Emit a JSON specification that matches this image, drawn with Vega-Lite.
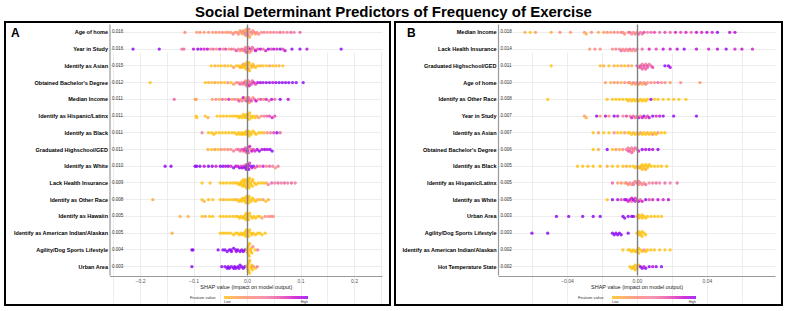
{
  "$schema": "https://vega.github.io/schema/vega-lite/v6.json",
  "background": "white",
  "padding": {"left": 4, "right": 3, "top": 5, "bottom": 4},
  "title": {"text": "Social Determinant Predictors of Frequency of Exercise", "font": "Liberation Sans", "fontSize": 15, "fontWeight": "bold", "color": "black", "anchor": "middle", "offset": 1},
  "config": {
    "font": "Liberation Sans",
    "view": {"stroke": "black", "strokeWidth": 2},
    "axis": {"labelFont": "Liberation Sans", "titleFont": "Liberation Sans"}
  },
  "datasets": {
    "featA": [
      {"r": 1, "f": "Age of home", "m": 0.016},
      {"r": 2, "f": "Year in Study", "m": 0.016},
      {"r": 3, "f": "Identify as Asian", "m": 0.015},
      {"r": 4, "f": "Obtained Bachelor's Degree", "m": 0.012},
      {"r": 5, "f": "Median Income", "m": 0.011},
      {"r": 6, "f": "Identify as Hispanic/Latinx", "m": 0.011},
      {"r": 7, "f": "Identify as Black", "m": 0.011},
      {"r": 8, "f": "Graduated Highschool/GED", "m": 0.011},
      {"r": 9, "f": "Identify as White", "m": 0.010},
      {"r": 10, "f": "Lack Health Insurance", "m": 0.009},
      {"r": 11, "f": "Identify as Other Race", "m": 0.008},
      {"r": 12, "f": "Identify as Hawaiin", "m": 0.005},
      {"r": 13, "f": "Identify as American Indian/Alaskan", "m": 0.005},
      {"r": 14, "f": "Agility/Dog Sports Lifestyle", "m": 0.004},
      {"r": 15, "f": "Urban Area", "m": 0.003}
    ],
    "featB": [
      {"r": 1, "f": "Median Income", "m": 0.018},
      {"r": 2, "f": "Lack Health Insurance", "m": 0.014},
      {"r": 3, "f": "Graduated Highschool/GED", "m": 0.011},
      {"r": 4, "f": "Age of home", "m": 0.010},
      {"r": 5, "f": "Identify as Other Race", "m": 0.008},
      {"r": 6, "f": "Year in Study", "m": 0.007},
      {"r": 7, "f": "Identify as Asian", "m": 0.007},
      {"r": 8, "f": "Obtained Bachelor's Degree", "m": 0.006},
      {"r": 9, "f": "Identify as Black", "m": 0.005},
      {"r": 10, "f": "Identify as Hispanic/Latinx", "m": 0.005},
      {"r": 11, "f": "Identify as White", "m": 0.005},
      {"r": 12, "f": "Urban Area", "m": 0.003},
      {"r": 13, "f": "Agility/Dog Sports Lifestyle", "m": 0.003},
      {"r": 14, "f": "Identify as American Indian/Alaskan", "m": 0.002},
      {"r": 15, "f": "Hot Temperature State", "m": 0.002}
    ],
    "ptsA": [
      {"r":1,"s":-0.116,"v":0.3},{"r":1,"s":-0.094,"v":0.2},{"r":1,"s":-0.088,"v":0.3},{"r":1,"s":-0.080,"v":0.2},{"r":1,"s":-0.072,"v":0.3},
      {"r":1,"s":-0.064,"v":0.2},{"r":1,"s":-0.058,"v":0.3},{"r":1,"s":-0.052,"v":0.2},{"r":1,"s":-0.046,"v":0.4},{"r":1,"s":-0.040,"v":0.2},{"r":1,"s":-0.035,"v":0.3},{"r":1,"s":-0.030,"v":0.2},{"r":1,"s":-0.026,"v":0.4},{"r":1,"s":-0.022,"v":0.3},
      {"r":1,"s":-0.018,"v":0.2},{"r":1,"s":-0.016,"v":0.3},{"r":1,"s":-0.013,"v":0.2},{"r":1,"s":-0.011,"v":0.4},{"r":1,"s":-0.009,"v":0.1},{"r":1,"s":-0.007,"v":0.3},{"r":1,"s":-0.005,"v":0.2},{"r":1,"s":-0.004,"v":0.5},{"r":1,"s":-0.003,"v":0.15},{"r":1,"s":-0.002,"v":0.3},{"r":1,"s":-0.001,"v":0.2},{"r":1,"s":0.000,"v":0.25},{"r":1,"s":0.001,"v":0.4},{"r":1,"s":0.002,"v":0.2},{"r":1,"s":0.003,"v":0.35},{"r":1,"s":0.004,"v":0.3},{"r":1,"s":0.005,"v":0.1},{"r":1,"s":0.007,"v":0.5},{"r":1,"s":0.009,"v":0.2},{"r":1,"s":0.011,"v":0.3},{"r":1,"s":0.013,"v":0.4},{"r":1,"s":0.016,"v":0.2},{"r":1,"s":0.018,"v":0.3},
      {"r":1,"s":0.022,"v":0.4},{"r":1,"s":0.027,"v":0.3},{"r":1,"s":0.032,"v":0.5},{"r":1,"s":0.038,"v":0.3},{"r":1,"s":0.044,"v":0.4},{"r":1,"s":0.050,"v":0.5},{"r":1,"s":0.056,"v":0.3},{"r":1,"s":0.062,"v":0.6},{"r":1,"s":0.068,"v":0.4},{"r":1,"s":0.075,"v":0.5},
      {"r":1,"s":0.082,"v":0.6},{"r":1,"s":0.088,"v":0.5},{"r":1,"s":0.099,"v":0.6},

      {"r":2,"s":-0.213,"v":1},{"r":2,"s":-0.164,"v":1},{"r":2,"s":-0.122,"v":0.5},{"r":2,"s":-0.118,"v":0.6},{"r":2,"s":-0.100,"v":0.9},{"r":2,"s":-0.092,"v":1},{"r":2,"s":-0.086,"v":0.9},{"r":2,"s":-0.080,"v":0.8},{"r":2,"s":-0.074,"v":0.9},{"r":2,"s":-0.068,"v":0.4},
      {"r":2,"s":-0.063,"v":0.6},{"r":2,"s":-0.057,"v":0.3},{"r":2,"s":-0.051,"v":0.8},{"r":2,"s":-0.045,"v":0.5},{"r":2,"s":-0.040,"v":0.7},{"r":2,"s":-0.034,"v":0.2},{"r":2,"s":-0.029,"v":0.6},{"r":2,"s":-0.024,"v":0.4},{"r":2,"s":-0.020,"v":0.7},
      {"r":2,"s":-0.016,"v":0.5},{"r":2,"s":-0.013,"v":0.3},{"r":2,"s":-0.010,"v":0.6},{"r":2,"s":-0.008,"v":0.2},{"r":2,"s":-0.005,"v":0.5},{"r":2,"s":-0.004,"v":0.6},{"r":2,"s":-0.003,"v":0.4},{"r":2,"s":-0.001,"v":0.7},{"r":2,"s":0.000,"v":0.45},{"r":2,"s":0.001,"v":0.3},{"r":2,"s":0.003,"v":0.5},{"r":2,"s":0.005,"v":0.2},{"r":2,"s":0.006,"v":0.8},{"r":2,"s":0.008,"v":0.4},{"r":2,"s":0.010,"v":0.6},{"r":2,"s":0.013,"v":0.5},{"r":2,"s":0.016,"v":0.9},
      {"r":2,"s":0.020,"v":0.7},{"r":2,"s":0.025,"v":0.9},{"r":2,"s":0.030,"v":0.6},{"r":2,"s":0.035,"v":0.8},{"r":2,"s":0.040,"v":1},{"r":2,"s":0.045,"v":0.7},{"r":2,"s":0.050,"v":0.9},{"r":2,"s":0.056,"v":0.8},{"r":2,"s":0.062,"v":1},{"r":2,"s":0.067,"v":0.7},{"r":2,"s":0.071,"v":0.9},
      {"r":2,"s":0.084,"v":1},{"r":2,"s":0.099,"v":1},{"r":2,"s":0.112,"v":0.9},{"r":2,"s":0.176,"v":1},

      {"r":3,"s":-0.067,"v":0},{"r":3,"s":-0.060,"v":0.1},{"r":3,"s":-0.054,"v":0},{"r":3,"s":-0.048,"v":0},{"r":3,"s":-0.042,"v":0.1},{"r":3,"s":-0.036,"v":0},{"r":3,"s":-0.030,"v":0},{"r":3,"s":-0.025,"v":0.2},{"r":3,"s":-0.020,"v":0},
      {"r":3,"s":-0.016,"v":0},{"r":3,"s":-0.013,"v":0.1},{"r":3,"s":-0.011,"v":0},{"r":3,"s":-0.009,"v":0},{"r":3,"s":-0.007,"v":0.2},{"r":3,"s":-0.005,"v":0},{"r":3,"s":-0.004,"v":0},{"r":3,"s":-0.003,"v":0.1},{"r":3,"s":-0.002,"v":0},{"r":3,"s":-0.001,"v":0},{"r":3,"s":0.000,"v":0.1},{"r":3,"s":0.001,"v":0},{"r":3,"s":0.002,"v":0},{"r":3,"s":0.003,"v":0.2},{"r":3,"s":0.004,"v":0},{"r":3,"s":0.005,"v":0},{"r":3,"s":0.007,"v":0.1},{"r":3,"s":0.009,"v":0},{"r":3,"s":0.011,"v":0},{"r":3,"s":0.013,"v":0.1},{"r":3,"s":0.016,"v":0},
      {"r":3,"s":0.020,"v":0},{"r":3,"s":0.025,"v":0.1},{"r":3,"s":0.030,"v":0},{"r":3,"s":0.036,"v":0},{"r":3,"s":0.042,"v":0.2},{"r":3,"s":0.048,"v":0},{"r":3,"s":0.054,"v":0},{"r":3,"s":0.060,"v":0.1},{"r":3,"s":0.067,"v":0},

      {"r":4,"s":-0.181,"v":0},{"r":4,"s":-0.078,"v":0},{"r":4,"s":-0.072,"v":0.1},
      {"r":4,"s":-0.066,"v":0},{"r":4,"s":-0.060,"v":0.2},{"r":4,"s":-0.054,"v":0},{"r":4,"s":-0.048,"v":0.1},{"r":4,"s":-0.042,"v":0},{"r":4,"s":-0.036,"v":0.3},{"r":4,"s":-0.030,"v":0},{"r":4,"s":-0.025,"v":0.2},{"r":4,"s":-0.020,"v":0.4},
      {"r":4,"s":-0.016,"v":0.3},{"r":4,"s":-0.013,"v":0.6},{"r":4,"s":-0.010,"v":0.4},{"r":4,"s":-0.008,"v":0.5},{"r":4,"s":-0.005,"v":0.7},{"r":4,"s":-0.004,"v":0.4},{"r":4,"s":-0.003,"v":0.3},{"r":4,"s":-0.001,"v":0.5},{"r":4,"s":0.000,"v":0.5},{"r":4,"s":0.001,"v":0.6},{"r":4,"s":0.003,"v":0.4},{"r":4,"s":0.004,"v":0.8},{"r":4,"s":0.006,"v":0.5},{"r":4,"s":0.008,"v":0.7},{"r":4,"s":0.010,"v":0.6},{"r":4,"s":0.013,"v":0.8},{"r":4,"s":0.016,"v":0.7},
      {"r":4,"s":0.020,"v":0.9},{"r":4,"s":0.025,"v":1},{"r":4,"s":0.030,"v":0.9},{"r":4,"s":0.036,"v":1},{"r":4,"s":0.042,"v":1},{"r":4,"s":0.048,"v":0.9},{"r":4,"s":0.054,"v":1},{"r":4,"s":0.060,"v":1},{"r":4,"s":0.066,"v":1},{"r":4,"s":0.072,"v":1},{"r":4,"s":0.078,"v":1},{"r":4,"s":0.085,"v":1},{"r":4,"s":0.092,"v":1},{"r":4,"s":0.105,"v":1},

      {"r":5,"s":-0.136,"v":0.6},{"r":5,"s":-0.097,"v":0.1},{"r":5,"s":-0.095,"v":0.2},
      {"r":5,"s":-0.065,"v":0.2},{"r":5,"s":-0.058,"v":0.4},{"r":5,"s":-0.052,"v":0.1},{"r":5,"s":-0.046,"v":0.6},{"r":5,"s":-0.040,"v":0.3},{"r":5,"s":-0.034,"v":0.8},{"r":5,"s":-0.028,"v":0.2},{"r":5,"s":-0.023,"v":0.5},
      {"r":5,"s":-0.018,"v":0.3},{"r":5,"s":-0.015,"v":0.7},{"r":5,"s":-0.012,"v":0.2},{"r":5,"s":-0.009,"v":0.5},{"r":5,"s":-0.007,"v":0.9},{"r":5,"s":-0.004,"v":0.3},{"r":5,"s":-0.002,"v":0.6},{"r":5,"s":-0.001,"v":0.1},{"r":5,"s":0.000,"v":0.4},{"r":5,"s":0.002,"v":0.8},{"r":5,"s":0.003,"v":0.6},{"r":5,"s":0.004,"v":0.2},{"r":5,"s":0.006,"v":0.5},{"r":5,"s":0.008,"v":0.7},{"r":5,"s":0.011,"v":0.3},{"r":5,"s":0.014,"v":0.6},{"r":5,"s":0.017,"v":0.9},
      {"r":5,"s":0.021,"v":0.4},{"r":5,"s":0.026,"v":0.7},{"r":5,"s":0.031,"v":0.3},{"r":5,"s":0.036,"v":0.8},{"r":5,"s":0.041,"v":0.5},{"r":5,"s":0.046,"v":0.9},{"r":5,"s":0.052,"v":0.6},
      {"r":5,"s":0.062,"v":1},{"r":5,"s":0.077,"v":0.9},

      {"r":6,"s":-0.095,"v":0},{"r":6,"s":-0.094,"v":0},{"r":6,"s":-0.078,"v":0},{"r":6,"s":-0.073,"v":0.1},
      {"r":6,"s":-0.056,"v":0},{"r":6,"s":-0.050,"v":0},{"r":6,"s":-0.044,"v":0},{"r":6,"s":-0.038,"v":0},{"r":6,"s":-0.032,"v":0},{"r":6,"s":-0.027,"v":0},{"r":6,"s":-0.022,"v":0},
      {"r":6,"s":-0.018,"v":0},{"r":6,"s":-0.015,"v":0},{"r":6,"s":-0.012,"v":0},{"r":6,"s":-0.009,"v":0},{"r":6,"s":-0.007,"v":0},{"r":6,"s":-0.005,"v":0},{"r":6,"s":-0.003,"v":0},{"r":6,"s":-0.001,"v":0},{"r":6,"s":0.000,"v":0},{"r":6,"s":0.001,"v":0},{"r":6,"s":0.002,"v":0},{"r":6,"s":0.004,"v":0},{"r":6,"s":0.005,"v":0},{"r":6,"s":0.007,"v":0},{"r":6,"s":0.009,"v":0},{"r":6,"s":0.012,"v":0},{"r":6,"s":0.015,"v":0},{"r":6,"s":0.018,"v":0.1},
      {"r":6,"s":0.022,"v":0.2},{"r":6,"s":0.027,"v":0.3},{"r":6,"s":0.032,"v":0.5},{"r":6,"s":0.037,"v":0.6},{"r":6,"s":0.042,"v":0.7},{"r":6,"s":0.047,"v":0.8},{"r":6,"s":0.052,"v":0.7},

      {"r":7,"s":-0.084,"v":0.5},{"r":7,"s":-0.072,"v":0},{"r":7,"s":-0.066,"v":0},{"r":7,"s":-0.062,"v":0},
      {"r":7,"s":-0.058,"v":0},{"r":7,"s":-0.052,"v":0},{"r":7,"s":-0.046,"v":0},{"r":7,"s":-0.040,"v":0},{"r":7,"s":-0.034,"v":0},{"r":7,"s":-0.028,"v":0},{"r":7,"s":-0.023,"v":0},
      {"r":7,"s":-0.019,"v":0},{"r":7,"s":-0.016,"v":0},{"r":7,"s":-0.013,"v":0},{"r":7,"s":-0.010,"v":0},{"r":7,"s":-0.008,"v":0},{"r":7,"s":-0.005,"v":0},{"r":7,"s":-0.003,"v":0},{"r":7,"s":-0.001,"v":0},{"r":7,"s":0.000,"v":0},{"r":7,"s":0.001,"v":0},{"r":7,"s":0.003,"v":0},{"r":7,"s":0.004,"v":0},{"r":7,"s":0.006,"v":0},{"r":7,"s":0.008,"v":0},{"r":7,"s":0.011,"v":0},{"r":7,"s":0.014,"v":0},{"r":7,"s":0.017,"v":0},
      {"r":7,"s":0.022,"v":0},{"r":7,"s":0.027,"v":0},{"r":7,"s":0.032,"v":0.1},{"r":7,"s":0.038,"v":0.3},{"r":7,"s":0.044,"v":0.5},{"r":7,"s":0.050,"v":0.7},{"r":7,"s":0.056,"v":1},{"r":7,"s":0.062,"v":0.6},

      {"r":8,"s":-0.073,"v":0.1},{"r":8,"s":-0.066,"v":0},{"r":8,"s":-0.060,"v":0.2},{"r":8,"s":-0.054,"v":0},{"r":8,"s":-0.048,"v":0.3},{"r":8,"s":-0.042,"v":0.2},{"r":8,"s":-0.036,"v":0.4},{"r":8,"s":-0.030,"v":0.3},{"r":8,"s":-0.025,"v":0.5},{"r":8,"s":-0.020,"v":0.4},
      {"r":8,"s":-0.016,"v":0.6},{"r":8,"s":-0.013,"v":0.5},{"r":8,"s":-0.010,"v":0.7},{"r":8,"s":-0.008,"v":0.4},{"r":8,"s":-0.005,"v":0.8},{"r":8,"s":-0.004,"v":0.7},{"r":8,"s":-0.003,"v":0.6},{"r":8,"s":-0.001,"v":0.5},{"r":8,"s":0.000,"v":0.7},{"r":8,"s":0.001,"v":0.9},{"r":8,"s":0.002,"v":0.6},{"r":8,"s":0.003,"v":0.6},{"r":8,"s":0.005,"v":0.8},{"r":8,"s":0.007,"v":0.5},{"r":8,"s":0.009,"v":0.9},{"r":8,"s":0.012,"v":0.7},{"r":8,"s":0.015,"v":0.8},
      {"r":8,"s":0.019,"v":0.9},{"r":8,"s":0.023,"v":1},{"r":8,"s":0.028,"v":0.9},{"r":8,"s":0.033,"v":1},{"r":8,"s":0.038,"v":0.9},{"r":8,"s":0.043,"v":1},{"r":8,"s":0.047,"v":1},

      {"r":9,"s":-0.153,"v":1},{"r":9,"s":-0.142,"v":1},{"r":9,"s":-0.097,"v":1},{"r":9,"s":-0.094,"v":1},{"r":9,"s":-0.088,"v":1},{"r":9,"s":-0.080,"v":0.9},{"r":9,"s":-0.072,"v":1},{"r":9,"s":-0.065,"v":1},{"r":9,"s":-0.058,"v":0.8},
      {"r":9,"s":-0.050,"v":1},{"r":9,"s":-0.045,"v":1},{"r":9,"s":-0.040,"v":0.9},{"r":9,"s":-0.035,"v":1},{"r":9,"s":-0.030,"v":0.8},{"r":9,"s":-0.025,"v":1},{"r":9,"s":-0.021,"v":0.9},
      {"r":9,"s":-0.017,"v":0.8},{"r":9,"s":-0.014,"v":1},{"r":9,"s":-0.011,"v":0.7},{"r":9,"s":-0.009,"v":1},{"r":9,"s":-0.006,"v":0.8},{"r":9,"s":-0.004,"v":1},{"r":9,"s":-0.002,"v":0.6},{"r":9,"s":-0.001,"v":0.9},{"r":9,"s":0.000,"v":1},{"r":9,"s":0.001,"v":0.8},{"r":9,"s":0.002,"v":1},{"r":9,"s":0.003,"v":1},{"r":9,"s":0.005,"v":0.7},{"r":9,"s":0.007,"v":1},{"r":9,"s":0.009,"v":0.8},{"r":9,"s":0.012,"v":1},{"r":9,"s":0.015,"v":0.6},
      {"r":9,"s":0.019,"v":0.7},{"r":9,"s":0.024,"v":0.5},{"r":9,"s":0.030,"v":0.8},{"r":9,"s":0.036,"v":0.4},{"r":9,"s":0.042,"v":0.6},{"r":9,"s":0.048,"v":0.5},{"r":9,"s":0.053,"v":0.3},{"r":9,"s":0.058,"v":0.5},

      {"r":10,"s":-0.084,"v":0},{"r":10,"s":-0.069,"v":0},{"r":10,"s":-0.050,"v":0},{"r":10,"s":-0.044,"v":0},{"r":10,"s":-0.038,"v":0},{"r":10,"s":-0.032,"v":0},{"r":10,"s":-0.027,"v":0},{"r":10,"s":-0.022,"v":0},
      {"r":10,"s":-0.018,"v":0},{"r":10,"s":-0.015,"v":0},{"r":10,"s":-0.012,"v":0},{"r":10,"s":-0.011,"v":0},{"r":10,"s":-0.010,"v":0},{"r":10,"s":-0.008,"v":0},{"r":10,"s":-0.007,"v":0},{"r":10,"s":-0.006,"v":0},{"r":10,"s":-0.005,"v":0},{"r":10,"s":-0.004,"v":0},{"r":10,"s":-0.003,"v":0},{"r":10,"s":-0.002,"v":0},{"r":10,"s":-0.001,"v":0},{"r":10,"s":0.000,"v":0},{"r":10,"s":0.001,"v":0},{"r":10,"s":0.002,"v":0},{"r":10,"s":0.002,"v":0},{"r":10,"s":0.003,"v":0},{"r":10,"s":0.004,"v":0},{"r":10,"s":0.005,"v":0},{"r":10,"s":0.006,"v":0},{"r":10,"s":0.007,"v":0},{"r":10,"s":0.009,"v":0},{"r":10,"s":0.010,"v":0},{"r":10,"s":0.011,"v":0},{"r":10,"s":0.014,"v":0},{"r":10,"s":0.017,"v":0},
      {"r":10,"s":0.021,"v":0},{"r":10,"s":0.026,"v":0},{"r":10,"s":0.031,"v":0},{"r":10,"s":0.036,"v":0.1},{"r":10,"s":0.040,"v":0.5},{"r":10,"s":0.046,"v":0.6},{"r":10,"s":0.052,"v":0.5},{"r":10,"s":0.058,"v":0.6},{"r":10,"s":0.064,"v":0.5},{"r":10,"s":0.070,"v":0.6},{"r":10,"s":0.076,"v":0.5},{"r":10,"s":0.083,"v":0.6},{"r":10,"s":0.090,"v":0.5},

      {"r":11,"s":-0.176,"v":0.1},{"r":11,"s":-0.084,"v":0},{"r":11,"s":-0.080,"v":0.1},{"r":11,"s":-0.072,"v":0},{"r":11,"s":-0.064,"v":0},{"r":11,"s":-0.050,"v":0},{"r":11,"s":-0.044,"v":0.1},{"r":11,"s":-0.038,"v":0},{"r":11,"s":-0.032,"v":0},{"r":11,"s":-0.027,"v":0},{"r":11,"s":-0.022,"v":0.1},
      {"r":11,"s":-0.018,"v":0},{"r":11,"s":-0.015,"v":0},{"r":11,"s":-0.012,"v":0},{"r":11,"s":-0.010,"v":0},{"r":11,"s":-0.008,"v":0},{"r":11,"s":-0.006,"v":0},{"r":11,"s":-0.004,"v":0},{"r":11,"s":-0.003,"v":0},{"r":11,"s":-0.002,"v":0},{"r":11,"s":-0.001,"v":0},{"r":11,"s":0.000,"v":0},{"r":11,"s":0.001,"v":0},{"r":11,"s":0.002,"v":0},{"r":11,"s":0.003,"v":0},{"r":11,"s":0.004,"v":0},{"r":11,"s":0.006,"v":0},{"r":11,"s":0.008,"v":0},{"r":11,"s":0.010,"v":0},{"r":11,"s":0.013,"v":0},{"r":11,"s":0.016,"v":0},
      {"r":11,"s":0.020,"v":0.1},{"r":11,"s":0.025,"v":0},{"r":11,"s":0.030,"v":0.2},{"r":11,"s":0.035,"v":0},{"r":11,"s":0.040,"v":0.1},

      {"r":12,"s":-0.125,"v":0.1},{"r":12,"s":-0.110,"v":0.1},{"r":12,"s":-0.084,"v":0},{"r":12,"s":-0.078,"v":0.1},{"r":12,"s":-0.070,"v":0},{"r":12,"s":-0.064,"v":0},{"r":12,"s":-0.050,"v":0},{"r":12,"s":-0.044,"v":0},{"r":12,"s":-0.038,"v":0},{"r":12,"s":-0.032,"v":0},{"r":12,"s":-0.026,"v":0},{"r":12,"s":-0.021,"v":0},
      {"r":12,"s":-0.017,"v":0},{"r":12,"s":-0.014,"v":0},{"r":12,"s":-0.011,"v":0},{"r":12,"s":-0.008,"v":0},{"r":12,"s":-0.006,"v":0},{"r":12,"s":-0.004,"v":0},{"r":12,"s":-0.003,"v":0},{"r":12,"s":-0.002,"v":0},{"r":12,"s":-0.001,"v":0},{"r":12,"s":0.000,"v":0},{"r":12,"s":0.001,"v":0},{"r":12,"s":0.002,"v":0},{"r":12,"s":0.003,"v":0},{"r":12,"s":0.005,"v":0},{"r":12,"s":0.007,"v":0},{"r":12,"s":0.010,"v":0},{"r":12,"s":0.013,"v":0},{"r":12,"s":0.016,"v":0},
      {"r":12,"s":0.020,"v":0},{"r":12,"s":0.024,"v":0},{"r":12,"s":0.028,"v":0.2},{"r":12,"s":0.034,"v":0.3},{"r":12,"s":0.040,"v":0.3},{"r":12,"s":0.045,"v":0.4},{"r":12,"s":0.049,"v":0.3},

      {"r":13,"s":-0.140,"v":0.1},{"r":13,"s":-0.050,"v":0},{"r":13,"s":-0.045,"v":0},{"r":13,"s":-0.040,"v":0},{"r":13,"s":-0.035,"v":0},{"r":13,"s":-0.030,"v":0},{"r":13,"s":-0.025,"v":0},{"r":13,"s":-0.021,"v":0},
      {"r":13,"s":-0.017,"v":0},{"r":13,"s":-0.014,"v":0},{"r":13,"s":-0.011,"v":0},{"r":13,"s":-0.008,"v":0},{"r":13,"s":-0.006,"v":0},{"r":13,"s":-0.004,"v":0},{"r":13,"s":-0.003,"v":0},{"r":13,"s":-0.002,"v":0},{"r":13,"s":-0.001,"v":0},{"r":13,"s":0.000,"v":0},{"r":13,"s":0.001,"v":0},{"r":13,"s":0.002,"v":0},{"r":13,"s":0.003,"v":0},{"r":13,"s":0.005,"v":0},{"r":13,"s":0.007,"v":0},{"r":13,"s":0.009,"v":0},{"r":13,"s":0.012,"v":0},
      {"r":13,"s":0.016,"v":0},{"r":13,"s":0.020,"v":0},{"r":13,"s":0.024,"v":0},{"r":13,"s":0.028,"v":0},{"r":13,"s":0.034,"v":0},

      {"r":14,"s":-0.103,"v":1},{"r":14,"s":-0.101,"v":1},{"r":14,"s":-0.054,"v":1},{"r":14,"s":-0.045,"v":1},{"r":14,"s":-0.041,"v":1},{"r":14,"s":-0.037,"v":1},{"r":14,"s":-0.033,"v":1},{"r":14,"s":-0.030,"v":1},{"r":14,"s":-0.029,"v":1},{"r":14,"s":-0.025,"v":1},{"r":14,"s":-0.021,"v":1},{"r":14,"s":-0.020,"v":0.9},{"r":14,"s":-0.017,"v":1},{"r":14,"s":-0.013,"v":1},{"r":14,"s":-0.010,"v":1},{"r":14,"s":-0.007,"v":1},{"r":14,"s":-0.004,"v":1},
      {"r":14,"s":0.000,"v":0},{"r":14,"s":0.000,"v":0},{"r":14,"s":0.001,"v":0},{"r":14,"s":0.001,"v":0},{"r":14,"s":0.002,"v":0},{"r":14,"s":0.003,"v":0},{"r":14,"s":0.003,"v":0},{"r":14,"s":0.004,"v":0},{"r":14,"s":0.005,"v":0},{"r":14,"s":0.006,"v":0},{"r":14,"s":0.007,"v":0},{"r":14,"s":0.008,"v":0},{"r":14,"s":0.009,"v":0},
      {"r":14,"s":0.011,"v":0.4},{"r":14,"s":0.015,"v":0},{"r":14,"s":0.020,"v":0.5},

      {"r":15,"s":-0.103,"v":1},{"r":15,"s":-0.047,"v":1},{"r":15,"s":-0.041,"v":1},{"r":15,"s":-0.037,"v":1},{"r":15,"s":-0.035,"v":1},{"r":15,"s":-0.033,"v":1},{"r":15,"s":-0.029,"v":1},{"r":15,"s":-0.025,"v":1},{"r":15,"s":-0.023,"v":1},{"r":15,"s":-0.021,"v":1},{"r":15,"s":-0.017,"v":1},{"r":15,"s":-0.015,"v":1},{"r":15,"s":-0.013,"v":1},{"r":15,"s":-0.010,"v":1},{"r":15,"s":-0.007,"v":1},{"r":15,"s":-0.004,"v":1},
      {"r":15,"s":0.000,"v":0},{"r":15,"s":0.001,"v":0},{"r":15,"s":0.001,"v":0},{"r":15,"s":0.002,"v":0},{"r":15,"s":0.003,"v":0},{"r":15,"s":0.003,"v":0},{"r":15,"s":0.004,"v":0},{"r":15,"s":0.005,"v":0},{"r":15,"s":0.005,"v":0},{"r":15,"s":0.007,"v":0},{"r":15,"s":0.008,"v":0},{"r":15,"s":0.009,"v":0},{"r":15,"s":0.010,"v":0},
      {"r":15,"s":0.012,"v":0.3},{"r":15,"s":0.016,"v":0},{"r":15,"s":0.019,"v":0.5}
    ],
    "ptsB": [
      {"r":1,"s":-0.064,"v":0.1},{"r":1,"s":-0.061,"v":0},{"r":1,"s":-0.058,"v":0.2},{"r":1,"s":-0.049,"v":0.1},{"r":1,"s":-0.044,"v":0.3},{"r":1,"s":-0.038,"v":0.2},{"r":1,"s":-0.030,"v":0.2},{"r":1,"s":-0.029,"v":0.1},{"r":1,"s":-0.026,"v":0.3},{"r":1,"s":-0.022,"v":0.1},{"r":1,"s":-0.019,"v":0.2},
      {"r":1,"s":-0.017,"v":0.3},{"r":1,"s":-0.015,"v":0.2},{"r":1,"s":-0.013,"v":0.4},{"r":1,"s":-0.011,"v":0.3},{"r":1,"s":-0.009,"v":0.5},{"r":1,"s":-0.008,"v":0.3},{"r":1,"s":-0.007,"v":0.3},{"r":1,"s":-0.005,"v":0.4},{"r":1,"s":-0.004,"v":0.6},{"r":1,"s":-0.003,"v":0.4},{"r":1,"s":-0.002,"v":0.3},{"r":1,"s":-0.001,"v":0.5},{"r":1,"s":0.000,"v":0.4},{"r":1,"s":0.001,"v":0.6},{"r":1,"s":0.002,"v":0.5},{"r":1,"s":0.003,"v":0.5},{"r":1,"s":0.004,"v":0.7},{"r":1,"s":0.006,"v":0.5},{"r":1,"s":0.008,"v":0.6},{"r":1,"s":0.010,"v":0.7},
      {"r":1,"s":0.013,"v":0.6},{"r":1,"s":0.016,"v":0.7},{"r":1,"s":0.019,"v":0.6},{"r":1,"s":0.022,"v":0.8},{"r":1,"s":0.025,"v":0.7},{"r":1,"s":0.028,"v":0.8},{"r":1,"s":0.031,"v":0.6},{"r":1,"s":0.034,"v":0.9},{"r":1,"s":0.037,"v":0.8},{"r":1,"s":0.040,"v":0.9},{"r":1,"s":0.043,"v":0.8},{"r":1,"s":0.046,"v":1},{"r":1,"s":0.053,"v":0.9},{"r":1,"s":0.056,"v":0.9},

      {"r":2,"s":-0.027,"v":0.2},{"r":2,"s":-0.024,"v":0.4},{"r":2,"s":-0.021,"v":0.3},
      {"r":2,"s":-0.014,"v":0.3},{"r":2,"s":-0.012,"v":0.5},{"r":2,"s":-0.010,"v":0.4},{"r":2,"s":-0.009,"v":0.6},{"r":2,"s":-0.008,"v":0.3},{"r":2,"s":-0.007,"v":0.5},{"r":2,"s":-0.006,"v":0.4},{"r":2,"s":-0.005,"v":0.4},{"r":2,"s":-0.004,"v":0.6},{"r":2,"s":-0.003,"v":0.3},{"r":2,"s":-0.002,"v":0.5},{"r":2,"s":-0.001,"v":0.4},{"r":2,"s":0.000,"v":0.5},
      {"r":2,"s":0.003,"v":0.6},{"r":2,"s":0.007,"v":0.8},{"r":2,"s":0.011,"v":0.7},{"r":2,"s":0.015,"v":0.9},{"r":2,"s":0.019,"v":0.8},{"r":2,"s":0.023,"v":0.9},{"r":2,"s":0.027,"v":1},{"r":2,"s":0.034,"v":0.9},{"r":2,"s":0.041,"v":0.8},{"r":2,"s":0.046,"v":0.9},{"r":2,"s":0.051,"v":1},{"r":2,"s":0.056,"v":0.8},{"r":2,"s":0.060,"v":0.9},{"r":2,"s":0.066,"v":0.8},

      {"r":3,"s":-0.049,"v":0},{"r":3,"s":-0.021,"v":0},{"r":3,"s":-0.019,"v":0.1},{"r":3,"s":-0.016,"v":0},{"r":3,"s":-0.013,"v":0.1},{"r":3,"s":-0.011,"v":0},{"r":3,"s":-0.009,"v":0.1},{"r":3,"s":-0.007,"v":0},{"r":3,"s":-0.005,"v":0.2},{"r":3,"s":-0.003,"v":0.1},
      {"r":3,"s":0.000,"v":0.6},{"r":3,"s":0.001,"v":0.5},{"r":3,"s":0.002,"v":0.7},{"r":3,"s":0.002,"v":0.6},{"r":3,"s":0.003,"v":0.5},{"r":3,"s":0.003,"v":0.6},{"r":3,"s":0.004,"v":0.7},{"r":3,"s":0.004,"v":0.6},{"r":3,"s":0.005,"v":0.5},{"r":3,"s":0.005,"v":0.6},{"r":3,"s":0.006,"v":0.7},{"r":3,"s":0.006,"v":0.6},{"r":3,"s":0.007,"v":0.5},{"r":3,"s":0.008,"v":0.6},{"r":3,"s":0.009,"v":0.7},
      {"r":3,"s":0.016,"v":1},{"r":3,"s":0.018,"v":1},{"r":3,"s":0.019,"v":0.9},

      {"r":4,"s":-0.018,"v":0.2},{"r":4,"s":-0.015,"v":0.1},{"r":4,"s":-0.013,"v":0.3},{"r":4,"s":-0.011,"v":0.2},{"r":4,"s":-0.009,"v":0.1},{"r":4,"s":-0.007,"v":0.4},{"r":4,"s":-0.005,"v":0.2},{"r":4,"s":-0.004,"v":0.3},{"r":4,"s":-0.003,"v":0.1},{"r":4,"s":-0.002,"v":0.5},{"r":4,"s":-0.001,"v":0.2},{"r":4,"s":0.000,"v":0.3},{"r":4,"s":0.001,"v":0.2},{"r":4,"s":0.002,"v":0.4},{"r":4,"s":0.003,"v":0.1},{"r":4,"s":0.004,"v":0.3},{"r":4,"s":0.005,"v":0.5},{"r":4,"s":0.006,"v":0.2},{"r":4,"s":0.008,"v":0.4},{"r":4,"s":0.010,"v":0.3},{"r":4,"s":0.012,"v":0.6},{"r":4,"s":0.014,"v":0.3},{"r":4,"s":0.016,"v":0.4},{"r":4,"s":0.019,"v":0.2},{"r":4,"s":0.025,"v":0.3},{"r":4,"s":0.036,"v":0.2},

      {"r":5,"s":-0.051,"v":0},{"r":5,"s":-0.017,"v":0},{"r":5,"s":-0.014,"v":0},{"r":5,"s":-0.012,"v":0},{"r":5,"s":-0.010,"v":0},{"r":5,"s":-0.008,"v":0},{"r":5,"s":-0.006,"v":0},{"r":5,"s":-0.005,"v":0},{"r":5,"s":-0.004,"v":0},{"r":5,"s":-0.003,"v":0},{"r":5,"s":-0.002,"v":0},{"r":5,"s":-0.001,"v":0},{"r":5,"s":0.000,"v":0},{"r":5,"s":0.001,"v":0},{"r":5,"s":0.002,"v":0},{"r":5,"s":0.003,"v":0},{"r":5,"s":0.004,"v":0},{"r":5,"s":0.005,"v":0},{"r":5,"s":0.006,"v":0},{"r":5,"s":0.008,"v":1},{"r":5,"s":0.010,"v":0},{"r":5,"s":0.012,"v":0},{"r":5,"s":0.015,"v":0},{"r":5,"s":0.018,"v":0},{"r":5,"s":0.021,"v":0},{"r":5,"s":0.024,"v":0},{"r":5,"s":0.028,"v":0},

      {"r":6,"s":-0.030,"v":0.2},{"r":6,"s":-0.029,"v":0.1},{"r":6,"s":-0.023,"v":1},{"r":6,"s":-0.021,"v":0.2},{"r":6,"s":-0.018,"v":0.9},{"r":6,"s":-0.016,"v":0.3},{"r":6,"s":-0.013,"v":1},{"r":6,"s":-0.011,"v":0.8},
      {"r":6,"s":-0.008,"v":0.5},{"r":6,"s":-0.006,"v":0.7},{"r":6,"s":-0.004,"v":0.4},{"r":6,"s":-0.003,"v":0.8},{"r":6,"s":-0.002,"v":0.6},{"r":6,"s":-0.001,"v":0.6},{"r":6,"s":0.000,"v":0.5},{"r":6,"s":0.001,"v":0.9},{"r":6,"s":0.002,"v":0.4},{"r":6,"s":0.003,"v":0.8},{"r":6,"s":0.004,"v":1},{"r":6,"s":0.005,"v":0.6},{"r":6,"s":0.006,"v":0.7},{"r":6,"s":0.007,"v":0.9},{"r":6,"s":0.009,"v":1},{"r":6,"s":0.011,"v":0.8},{"r":6,"s":0.013,"v":0.9},{"r":6,"s":0.015,"v":1},
      {"r":6,"s":0.021,"v":1},{"r":6,"s":0.034,"v":1},

      {"r":7,"s":-0.025,"v":0},{"r":7,"s":-0.022,"v":0.2},{"r":7,"s":-0.019,"v":0},{"r":7,"s":-0.016,"v":0},{"r":7,"s":-0.013,"v":0.3},{"r":7,"s":-0.011,"v":0},{"r":7,"s":-0.009,"v":0},{"r":7,"s":-0.007,"v":0.2},{"r":7,"s":-0.005,"v":0},{"r":7,"s":-0.004,"v":0},{"r":7,"s":-0.003,"v":0},{"r":7,"s":-0.002,"v":0.1},{"r":7,"s":-0.001,"v":0},{"r":7,"s":0.000,"v":0},{"r":7,"s":0.001,"v":0},{"r":7,"s":0.002,"v":0.2},{"r":7,"s":0.003,"v":0},{"r":7,"s":0.004,"v":0},{"r":7,"s":0.005,"v":0},{"r":7,"s":0.006,"v":0.1},{"r":7,"s":0.007,"v":0},{"r":7,"s":0.008,"v":0},{"r":7,"s":0.009,"v":0.3},{"r":7,"s":0.010,"v":0},{"r":7,"s":0.011,"v":0},{"r":7,"s":0.012,"v":0.2},{"r":7,"s":0.014,"v":0},{"r":7,"s":0.016,"v":0},

      {"r":8,"s":-0.025,"v":0},{"r":8,"s":-0.022,"v":0.1},{"r":8,"s":-0.017,"v":1},{"r":8,"s":-0.014,"v":0},{"r":8,"s":-0.012,"v":0.2},{"r":8,"s":-0.010,"v":0.1},{"r":8,"s":-0.008,"v":0.3},
      {"r":8,"s":-0.006,"v":0.5},{"r":8,"s":-0.005,"v":0.6},{"r":8,"s":-0.005,"v":0.5},{"r":8,"s":-0.004,"v":0.4},{"r":8,"s":-0.004,"v":0.6},{"r":8,"s":-0.003,"v":0.5},{"r":8,"s":-0.003,"v":0.6},{"r":8,"s":-0.002,"v":0.5},{"r":8,"s":-0.002,"v":0.4},{"r":8,"s":-0.001,"v":0.6},{"r":8,"s":0.000,"v":0.5},
      {"r":8,"s":0.001,"v":0.8},{"r":8,"s":0.003,"v":1},{"r":8,"s":0.005,"v":0.9},{"r":8,"s":0.007,"v":1},{"r":8,"s":0.009,"v":0.9},{"r":8,"s":0.012,"v":1},

      {"r":9,"s":-0.034,"v":0},{"r":9,"s":-0.031,"v":0},{"r":9,"s":-0.028,"v":0},{"r":9,"s":-0.025,"v":0},{"r":9,"s":-0.021,"v":0},{"r":9,"s":-0.017,"v":0.1},{"r":9,"s":-0.014,"v":0},{"r":9,"s":-0.011,"v":0},{"r":9,"s":-0.008,"v":0},{"r":9,"s":-0.006,"v":0.1},{"r":9,"s":-0.004,"v":0},{"r":9,"s":-0.002,"v":0},{"r":9,"s":-0.001,"v":0},{"r":9,"s":0.000,"v":0},{"r":9,"s":0.001,"v":0},{"r":9,"s":0.002,"v":0},{"r":9,"s":0.002,"v":0.1},{"r":9,"s":0.003,"v":0},{"r":9,"s":0.003,"v":0},{"r":9,"s":0.004,"v":0},{"r":9,"s":0.004,"v":0},{"r":9,"s":0.005,"v":0},{"r":9,"s":0.005,"v":0.1},{"r":9,"s":0.006,"v":0},{"r":9,"s":0.006,"v":0},{"r":9,"s":0.007,"v":0},{"r":9,"s":0.008,"v":0},{"r":9,"s":0.010,"v":0},{"r":9,"s":0.012,"v":0},{"r":9,"s":0.014,"v":0},{"r":9,"s":0.017,"v":0},

      {"r":10,"s":-0.014,"v":0.6},{"r":10,"s":-0.011,"v":0.2},{"r":10,"s":-0.009,"v":0.3},{"r":10,"s":-0.007,"v":0.1},{"r":10,"s":-0.006,"v":0.4},{"r":10,"s":-0.005,"v":0.3},{"r":10,"s":-0.004,"v":0.5},{"r":10,"s":-0.003,"v":0.2},{"r":10,"s":-0.002,"v":0.4},{"r":10,"s":-0.002,"v":0.5},{"r":10,"s":-0.001,"v":0.3},{"r":10,"s":0.000,"v":0.6},{"r":10,"s":0.001,"v":0.2},{"r":10,"s":0.001,"v":0.4},{"r":10,"s":0.002,"v":0.5},{"r":10,"s":0.003,"v":0.4},{"r":10,"s":0.004,"v":0.3},{"r":10,"s":0.005,"v":0.6},{"r":10,"s":0.007,"v":0.4},{"r":10,"s":0.009,"v":0.5},{"r":10,"s":0.011,"v":0.6},{"r":10,"s":0.013,"v":0.5},{"r":10,"s":0.016,"v":0.6},{"r":10,"s":0.019,"v":0.5},{"r":10,"s":0.023,"v":0.6},

      {"r":11,"s":-0.017,"v":0},{"r":11,"s":-0.014,"v":1},{"r":11,"s":-0.011,"v":0.9},{"r":11,"s":-0.009,"v":0.7},{"r":11,"s":-0.007,"v":1},{"r":11,"s":-0.006,"v":0.9},{"r":11,"s":-0.005,"v":0.8},{"r":11,"s":-0.004,"v":0.9},{"r":11,"s":-0.003,"v":0.6},{"r":11,"s":-0.003,"v":0.8},{"r":11,"s":-0.002,"v":1},{"r":11,"s":-0.001,"v":0.8},{"r":11,"s":-0.001,"v":0.7},{"r":11,"s":0.000,"v":0.7},{"r":11,"s":0.001,"v":0.9},{"r":11,"s":0.002,"v":0.6},{"r":11,"s":0.003,"v":0.8},{"r":11,"s":0.005,"v":1},{"r":11,"s":0.007,"v":0.7},{"r":11,"s":0.009,"v":0.8},{"r":11,"s":0.012,"v":0.9},{"r":11,"s":0.015,"v":0.8},{"r":11,"s":0.018,"v":0.9},

      {"r":12,"s":-0.046,"v":1},{"r":12,"s":-0.039,"v":1},{"r":12,"s":-0.031,"v":1},{"r":12,"s":-0.025,"v":1},{"r":12,"s":-0.021,"v":1},{"r":12,"s":-0.008,"v":1},{"r":12,"s":-0.007,"v":1},{"r":12,"s":-0.005,"v":1},{"r":12,"s":-0.003,"v":1},{"r":12,"s":-0.002,"v":1},
      {"r":12,"s":0.000,"v":0},{"r":12,"s":0.001,"v":0},{"r":12,"s":0.001,"v":0},{"r":12,"s":0.002,"v":0},{"r":12,"s":0.003,"v":0},{"r":12,"s":0.003,"v":0},{"r":12,"s":0.004,"v":0},{"r":12,"s":0.005,"v":0},{"r":12,"s":0.006,"v":0},
      {"r":12,"s":0.008,"v":0},{"r":12,"s":0.010,"v":0},{"r":12,"s":0.012,"v":0},{"r":12,"s":0.014,"v":0},

      {"r":13,"s":-0.060,"v":1},{"r":13,"s":-0.051,"v":1},{"r":13,"s":-0.014,"v":1},{"r":13,"s":-0.013,"v":1},{"r":13,"s":-0.012,"v":1},{"r":13,"s":-0.011,"v":1},{"r":13,"s":-0.010,"v":1},{"r":13,"s":-0.009,"v":1},{"r":13,"s":-0.005,"v":1},
      {"r":13,"s":0.000,"v":0},{"r":13,"s":0.001,"v":0},{"r":13,"s":0.001,"v":0},{"r":13,"s":0.002,"v":0},{"r":13,"s":0.002,"v":0},{"r":13,"s":0.003,"v":0},{"r":13,"s":0.003,"v":0},{"r":13,"s":0.004,"v":0},{"r":13,"s":0.005,"v":0},

      {"r":14,"s":-0.008,"v":0},{"r":14,"s":-0.005,"v":0},{"r":14,"s":-0.004,"v":0},{"r":14,"s":-0.003,"v":0},{"r":14,"s":-0.002,"v":0},{"r":14,"s":-0.001,"v":0},{"r":14,"s":0.000,"v":0},{"r":14,"s":0.000,"v":0},{"r":14,"s":0.001,"v":0},{"r":14,"s":0.001,"v":0},{"r":14,"s":0.002,"v":0},{"r":14,"s":0.003,"v":0},{"r":14,"s":0.004,"v":0.4},{"r":14,"s":0.005,"v":0},{"r":14,"s":0.006,"v":0},{"r":14,"s":0.008,"v":0},{"r":14,"s":0.010,"v":0},{"r":14,"s":0.013,"v":0},{"r":14,"s":0.016,"v":0},{"r":14,"s":0.019,"v":0},

      {"r":15,"s":-0.004,"v":0},{"r":15,"s":-0.003,"v":0},{"r":15,"s":-0.002,"v":0},{"r":15,"s":-0.002,"v":0},{"r":15,"s":-0.001,"v":0},{"r":15,"s":-0.001,"v":0},{"r":15,"s":0.000,"v":0},{"r":15,"s":0.000,"v":0},{"r":15,"s":0.001,"v":0},
      {"r":15,"s":0.002,"v":1},{"r":15,"s":0.003,"v":1},{"r":15,"s":0.004,"v":0.8},{"r":15,"s":0.005,"v":1},{"r":15,"s":0.007,"v":1},{"r":15,"s":0.009,"v":0.9},{"r":15,"s":0.011,"v":1},{"r":15,"s":0.014,"v":1}
    ]
  },
  "spacing": 3,
  "resolve": {"scale": {"x": "independent", "y": "independent", "color": "independent"}, "legend": {"color": "independent"}},
  "hconcat": [
    {
      "width": 385,
      "height": 283,
      "title": {"text": "A", "anchor": "start", "frame": "group", "fontSize": 12, "fontWeight": "bold", "color": "black", "offset": 0, "baseline": "alphabetic", "dx": 6, "dy": 27},
      "resolve": {"axis": {"x": "independent"}},
      "layer": [
        {
          "data": {"name": "ptsA"},
          "transform": [
            {"lookup": "r", "from": {"data": {"name": "featA"}, "key": "r", "fields": ["f"]}},
            {"bin": {"step": 0.006, "extent": [-0.3, 0.3]}, "field": "s", "as": "b"},
            {"window": [{"op": "row_number", "as": "n"}], "groupby": ["r", "b"], "sort": [{"field": "s", "order": "ascending"}]},
            {"calculate": "datum.n % 2 == 0 ? datum.n / 2 : (1 - datum.n) / 2", "as": "o"}
          ],
          "mark": {"type": "circle", "size": 11, "opacity": 0.8},
          "encoding": {
            "x": {
              "field": "s", "type": "quantitative",
              "scale": {"domain": [-0.257, 0.2523], "range": [104.5, 377], "nice": false, "zero": false},
              "axis": {
                "orient": "bottom", "offset": -29, "title": "SHAP value (impact on model output)",
                "titleFontSize": 5.5, "titleFontWeight": "normal", "titleColor": "#222", "titlePadding": 1,
                "values": [-0.25, -0.2, -0.15, -0.1, -0.05, 0, 0.05, 0.1, 0.15, 0.2, 0.25],
                "labelExpr": "abs(round(datum.value * 20)) % 2 == 0 ? format(datum.value, '.1f') : ''",
                "labelFontSize": 5, "labelColor": "#555", "labelPadding": 2, "ticks": false,
                "domain": true, "domainColor": "#9a9a9a", "domainWidth": 1,
                "grid": true, "gridColor": "#e8e8e8", "gridWidth": 0.8
              }
            },
            "y": {
              "field": "f", "type": "nominal",
              "scale": {"domain": ["Age of home", "Year in Study", "Identify as Asian", "Obtained Bachelor's Degree", "Median Income", "Identify as Hispanic/Latinx", "Identify as Black", "Graduated Highschool/GED", "Identify as White", "Lack Health Insurance", "Identify as Other Race", "Identify as Hawaiin", "Identify as American Indian/Alaskan", "Agility/Dog Sports Lifestyle", "Urban Area"], "range": [2, 253], "paddingInner": 0, "paddingOuter": 0},
              "axis": {
                "orient": "left", "offset": -104.5, "title": null, "ticks": false,
                "domain": true, "domainColor": "#9a9a9a", "domainWidth": 1.2,
                "labelFontSize": 5.5, "labelFontWeight": "bold", "labelColor": "black", "labelPadding": 2, "labelLimit": 200,
                "grid": true, "gridColor": "#e8e8e8", "gridWidth": 0.8, "bandPosition": 0.5
              }
            },
            "yOffset": {"field": "o", "type": "quantitative", "scale": {"domain": [-10, 10], "range": [-7.63, 24.37]}},
            "color": {
              "field": "v", "type": "quantitative",
              "scale": {"domain": [0, 0.5, 1], "range": ["#FFC107", "#EE789C", "#8A00F5"]},
              "legend": {
                "orient": "none", "legendX": 185, "legendY": 274, "direction": "horizontal", "padding": 0, "offset": 0,
                "title": "Feature value", "titleOrient": "left", "titleFontSize": 4.2, "titleFontWeight": "normal", "titleColor": "#333", "titlePadding": 8,
                "gradientLength": 84, "gradientThickness": 3, "gradientStrokeWidth": 0,
                "values": [0, 1], "labelExpr": "datum.value < 0.5 ? 'Low' : 'High'", "labelFontSize": 3.5, "labelColor": "#333", "labelOffset": 1
              }
            }
          }
        },
        {
          "data": {"name": "featA"},
          "mark": {"type": "text", "align": "left", "dx": 2.5, "fontSize": 4.5, "color": "#333"},
          "encoding": {
            "x": {"datum": -0.257, "type": "quantitative", "axis": {"orient": "top", "values": [0], "grid": true, "gridColor": "#808080", "gridWidth": 1.4, "domain": false, "labels": false, "ticks": false, "title": null, "zindex": 1}},
            "y": {"field": "f", "type": "nominal"},
            "text": {"field": "m", "type": "quantitative", "format": ".3f"}
          }
        }
      ]
    },
    {
      "width": 387,
      "height": 283,
      "title": {"text": "B", "anchor": "start", "frame": "group", "fontSize": 12, "fontWeight": "bold", "color": "black", "offset": 0, "baseline": "alphabetic", "dx": 12, "dy": 27},
      "resolve": {"axis": {"x": "independent"}},
      "layer": [
        {
          "data": {"name": "ptsB"},
          "transform": [
            {"lookup": "r", "from": {"data": {"name": "featB"}, "key": "r", "fields": ["f"]}},
            {"bin": {"step": 0.002, "extent": [-0.1, 0.1]}, "field": "s", "as": "b"},
            {"window": [{"op": "row_number", "as": "n"}], "groupby": ["r", "b"], "sort": [{"field": "s", "order": "ascending"}]},
            {"calculate": "datum.n % 2 == 0 ? datum.n / 2 : (1 - datum.n) / 2", "as": "o"}
          ],
          "mark": {"type": "circle", "size": 11, "opacity": 0.8},
          "encoding": {
            "x": {
              "field": "s", "type": "quantitative",
              "scale": {"domain": [-0.0794, 0.0789], "range": [103, 380], "nice": false, "zero": false},
              "axis": {
                "orient": "bottom", "offset": -29, "title": "SHAP value (impact on model output)",
                "titleFontSize": 5.5, "titleFontWeight": "normal", "titleColor": "#222", "titlePadding": 1,
                "values": [-0.06, -0.04, -0.02, 0, 0.02, 0.04, 0.06],
                "labelExpr": "abs(round(datum.value * 50)) % 2 == 0 ? format(datum.value, '.2f') : ''",
                "labelFontSize": 5, "labelColor": "#555", "labelPadding": 2, "ticks": false,
                "domain": true, "domainColor": "#9a9a9a", "domainWidth": 1,
                "grid": true, "gridColor": "#e8e8e8", "gridWidth": 0.8
              }
            },
            "y": {
              "field": "f", "type": "nominal",
              "scale": {"domain": ["Median Income", "Lack Health Insurance", "Graduated Highschool/GED", "Age of home", "Identify as Other Race", "Year in Study", "Identify as Asian", "Obtained Bachelor's Degree", "Identify as Black", "Identify as Hispanic/Latinx", "Identify as White", "Urban Area", "Agility/Dog Sports Lifestyle", "Identify as American Indian/Alaskan", "Hot Temperature State"], "range": [2, 253], "paddingInner": 0, "paddingOuter": 0},
              "axis": {
                "orient": "left", "offset": -103, "title": null, "ticks": false,
                "domain": true, "domainColor": "#9a9a9a", "domainWidth": 1.2,
                "labelFontSize": 5.5, "labelFontWeight": "bold", "labelColor": "black", "labelPadding": 2, "labelLimit": 200,
                "grid": true, "gridColor": "#e8e8e8", "gridWidth": 0.8, "bandPosition": 0.5
              }
            },
            "yOffset": {"field": "o", "type": "quantitative", "scale": {"domain": [-10, 10], "range": [-7.63, 24.37]}},
            "color": {
              "field": "v", "type": "quantitative",
              "scale": {"domain": [0, 0.5, 1], "range": ["#FFC107", "#EE789C", "#8A00F5"]},
              "legend": {
                "orient": "none", "legendX": 183, "legendY": 274, "direction": "horizontal", "padding": 0, "offset": 0,
                "title": "Feature value", "titleOrient": "left", "titleFontSize": 4.2, "titleFontWeight": "normal", "titleColor": "#333", "titlePadding": 8,
                "gradientLength": 84, "gradientThickness": 3, "gradientStrokeWidth": 0,
                "values": [0, 1], "labelExpr": "datum.value < 0.5 ? 'Low' : 'High'", "labelFontSize": 3.5, "labelColor": "#333", "labelOffset": 1
              }
            }
          }
        },
        {
          "data": {"name": "featB"},
          "mark": {"type": "text", "align": "left", "dx": 2.5, "fontSize": 4.5, "color": "#333"},
          "encoding": {
            "x": {"datum": -0.0794, "type": "quantitative", "axis": {"orient": "top", "values": [0], "grid": true, "gridColor": "#808080", "gridWidth": 1.4, "domain": false, "labels": false, "ticks": false, "title": null, "zindex": 1}},
            "y": {"field": "f", "type": "nominal"},
            "text": {"field": "m", "type": "quantitative", "format": ".3f"}
          }
        }
      ]
    }
  ]
}
